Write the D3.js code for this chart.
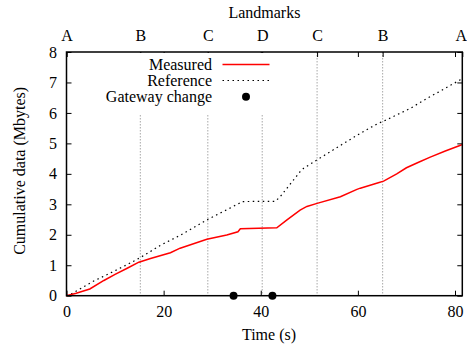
<!DOCTYPE html>
<html>
<head>
<meta charset="utf-8">
<script src="https://cdn.jsdelivr.net/npm/d3@7"></script>
<style>
    body { margin: 0; background: #fff; }
    svg text { font-family: "Liberation Serif", "DejaVu Serif", serif; font-size: 16px; fill: #000; }
</style>
</head>
<body>
<div id="chart"></div>
<script>
// measured cumulative data, [time s, Mbytes]
const measured = [
    [0, 0], [2, 0.08], [4.8, 0.22], [7.7, 0.5], [10, 0.7], [12.5, 0.9], [14.9, 1.1],
    [17.3, 1.22], [21.4, 1.41], [23.4, 1.56], [28.9, 1.85], [33.0, 1.99], [35.3, 2.1],
    [35.8, 2.2], [43.3, 2.23], [45.4, 2.49], [48.1, 2.81], [49.5, 2.93], [51.6, 3.03],
    [56.4, 3.25], [59.8, 3.49], [60.5, 3.53], [64.2, 3.71], [65.3, 3.76], [68, 4.0],
    [70, 4.2], [72.5, 4.38], [74.9, 4.55], [78, 4.75], [81, 4.93], [81.5, 4.96]
];
// reference cumulative data
const reference = [
    [0, 0], [1.2, 0.08], [5.6, 0.48], [10, 0.82], [12.5, 1.02], [15.2, 1.25], [19.3, 1.65],
    [21.4, 1.82], [23.4, 1.98], [28.9, 2.49], [35.8, 3.05], [36.2, 3.09], [43.0, 3.1],
    [44, 3.25], [48.1, 4.07], [48.8, 4.18], [51.6, 4.46], [57.7, 5.06], [60.5, 5.33],
    [64.2, 5.66], [65.3, 5.73], [70.8, 6.15], [74.9, 6.54], [77, 6.72], [81, 7.08], [81.5, 7.12]
];
const gatewayChanges = [34.4, 42.4];
const landmarkNames = ["A", "B", "C", "D", "C", "B", "A"];
const landmarkTimes = [0, 15.2, 29.1, 40.3, 51.6, 65.1, 81.5];
const xTicks = [0, 20, 40, 60, 80];
const yTicks = [0, 1, 2, 3, 4, 5, 6, 7, 8];

const width = 467, height = 349;
const plot = {left: 66.5, right: 462.3, top: 52, bottom: 295.7};

const svg = d3.select('#chart').append('svg')
    .attr('width', width)
    .attr('height', height);

const x = d3.scaleLinear().domain([0, 81.5]).range([plot.left, plot.right]);
const y = d3.scaleLinear().domain([0, 8]).range([plot.bottom, plot.top]);

// landmark grid lines (inner ones only)
svg.append('g')
    .selectAll('line')
    .data(landmarkTimes.slice(1, -1))
    .join('line')
    .attr('x1', d => x(d)).attr('x2', d => x(d))
    .attr('y1', plot.top).attr('y2', plot.bottom)
    .attr('stroke', '#a8a8a8')
    .attr('stroke-width', 1)
    .attr('stroke-dasharray', '1.5,1.5');

function styleAxis(g) {
    g.select('.domain').remove();
    g.selectAll('.tick line').attr('stroke', '#000').attr('stroke-width', 1);
    g.selectAll('.tick text').attr('font-family', null).attr('font-size', null);
}

// bottom
svg.append('g')
    .attr('transform', `translate(0,${plot.bottom})`)
    .call(d3.axisBottom(x).tickValues(xTicks).tickSizeInner(-5).tickSizeOuter(0).tickPadding(10))
    .call(styleAxis);
// top mirror ticks
svg.append('g')
    .attr('transform', `translate(0,${plot.top})`)
    .call(d3.axisTop(x).tickValues(xTicks).tickFormat('').tickSizeInner(-5).tickSizeOuter(0))
    .call(styleAxis);
// top landmarks
svg.append('g')
    .attr('transform', `translate(0,${plot.top})`)
    .call(d3.axisTop(x).tickValues(landmarkTimes).tickFormat((d, i) => landmarkNames[i])
        .tickSizeInner(-5).tickSizeOuter(0).tickPadding(11))
    .call(styleAxis)
    .call(g => g.selectAll('.tick:last-of-type text').attr('dx', -1.5));
// left
svg.append('g')
    .attr('transform', `translate(${plot.left},0)`)
    .call(d3.axisLeft(y).tickValues(yTicks).tickSizeInner(-5).tickSizeOuter(0).tickPadding(9.5))
    .call(styleAxis);
// right mirror
svg.append('g')
    .attr('transform', `translate(${plot.right},0)`)
    .call(d3.axisRight(y).tickValues(yTicks).tickFormat('').tickSizeInner(-5).tickSizeOuter(0))
    .call(styleAxis);

// legend box (hides grid lines behind it)
svg.append('rect')
    .attr('x', 100).attr('y', plot.top + 1)
    .attr('width', 173).attr('height', 61)
    .attr('fill', '#fff');

// lines
svg.append('path')
    .datum(reference)
    .attr('fill', 'none')
    .attr('stroke', '#000')
    .attr('stroke-width', 1.2)
    .attr('stroke-dasharray', '1.5,3.5')
    .attr('d', d3.line().x(d => x(d[0])).y(d => y(d[1])));

svg.append('path')
    .datum(measured)
    .attr('fill', 'none')
    .attr('stroke', '#ff0000')
    .attr('stroke-width', 1.5)
    .attr('d', d3.line().x(d => x(d[0])).y(d => y(d[1])));

// frame
svg.append('rect')
    .attr('x', plot.left).attr('y', plot.top)
    .attr('width', plot.right - plot.left).attr('height', plot.bottom - plot.top)
    .attr('fill', 'none')
    .attr('stroke', '#000')
    .attr('stroke-width', 1.5);

// gateway change points
svg.append('g')
    .selectAll('circle')
    .data(gatewayChanges)
    .join('circle')
    .attr('cx', d => x(d))
    .attr('cy', y(0))
    .attr('r', 4)
    .attr('fill', '#000');

// legend
const legend = svg.append('g');
const legendItems = ['Measured', 'Reference', 'Gateway change'];
legend.selectAll('text')
    .data(legendItems)
    .join('text')
    .attr('x', 212)
    .attr('y', (d, i) => 64.7 + i * 16)
    .attr('dy', '0.35em')
    .attr('text-anchor', 'end')
    .text(d => d);
legend.append('line')
    .attr('x1', 222.5).attr('x2', 269.5)
    .attr('y1', 64.5).attr('y2', 64.5)
    .attr('stroke', '#ff0000').attr('stroke-width', 1.5);
legend.append('line')
    .attr('x1', 222.5).attr('x2', 269.5)
    .attr('y1', 80.5).attr('y2', 80.5)
    .attr('stroke', '#000').attr('stroke-width', 1.2)
    .attr('stroke-dasharray', '1.5,3.5');
legend.append('circle')
    .attr('cx', 246).attr('cy', 96.7).attr('r', 4).attr('fill', '#000');

// titles
svg.append('text')
    .attr('x', (plot.left + plot.right) / 2)
    .attr('y', 17.5)
    .attr('text-anchor', 'middle')
    .text('Landmarks');
svg.append('text')
    .attr('x', 269)
    .attr('y', 340)
    .attr('text-anchor', 'middle')
    .text('Time (s)');
svg.append('text')
    .attr('transform', `translate(25,${(plot.top + plot.bottom) / 2 - 3}) rotate(-90)`)
    .attr('text-anchor', 'middle')
    .text('Cumulative data (Mbytes)');
</script>
</body>
</html>
